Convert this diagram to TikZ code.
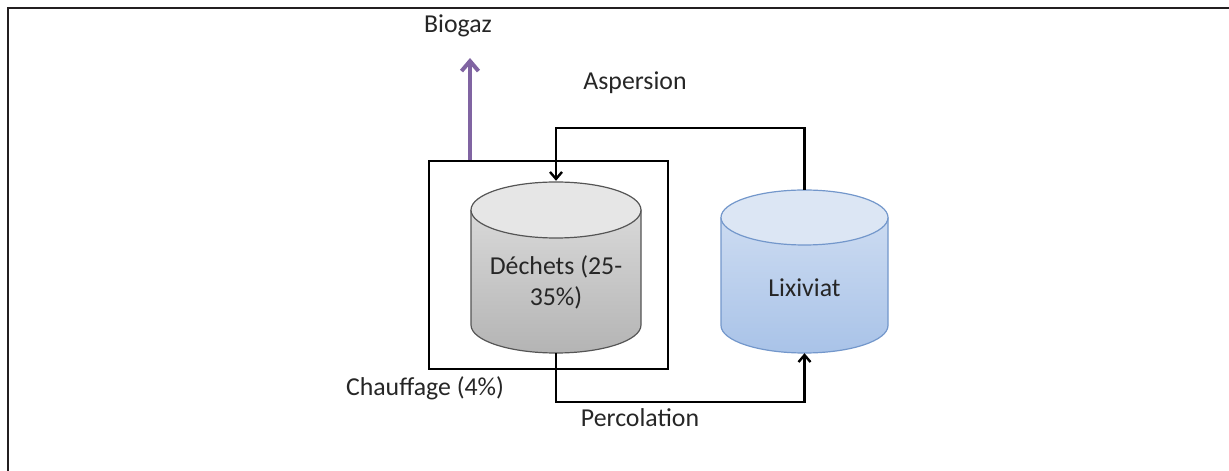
\documentclass[tikz,border=0pt]{standalone}
\usepackage{fontspec}
\setmainfont{Carlito}
\usetikzlibrary{arrows.meta,calc}
\definecolor{txt}{HTML}{262626}
\definecolor{framecol}{HTML}{231F20}
\definecolor{biocol}{HTML}{8064A2}
\definecolor{grayedge}{HTML}{555555}
\definecolor{graytop}{HTML}{E6E6E6}
\definecolor{graymid}{HTML}{E0E0E0}
\definecolor{graybot}{HTML}{B4B4B4}
\definecolor{blueedge}{HTML}{7397CB}
\definecolor{bluetop}{HTML}{DCE6F4}
\definecolor{bluemid}{HTML}{D3E0F3}
\definecolor{bluebot}{HTML}{A9C3E8}
\begin{document}
\begin{tikzpicture}[x=1pt,y=1pt,
  lbl/.style={font=\fontsize{25.8}{31}\selectfont, text=txt, inner sep=0pt, align=center},
  conn/.style={line width=2.4pt, black, -{Straight Barb[length=7pt,width=12pt]}},
  anchorbox/.style={inner sep=0pt, draw=none},
  bio/.style={line width=4pt, biocol, -{Straight Barb[length=10pt,width=17pt]}}]
\useasboundingbox (0,0) rectangle (1229,471);
% outer frame (top and left edges)
\draw[line width=2.6pt, framecol] (8,0) -- (8,463) -- (1229,463);

% reactor box
\node[draw, line width=2.2pt, minimum width=239pt, minimum height=208pt, inner sep=0pt] (box) at (548.5,206) {};

% Dechets cylinder
\shade[top color=graymid, bottom color=graybot] (471,261) -- (471,146)
  arc[start angle=180,end angle=360,x radius=85,y radius=28] -- (641,261)
  arc[start angle=0,end angle=180,x radius=85,y radius=28] -- cycle;
\draw[grayedge, line width=1.2pt] (471,261) -- (471,146)
  arc[start angle=180,end angle=360,x radius=85,y radius=28] -- (641,261);
\filldraw[fill=graytop, draw=grayedge, line width=1.2pt] (556,261) ellipse[x radius=85,y radius=28];
\node[anchorbox, minimum width=170pt, minimum height=172pt] (dech) at (556,204) {};
\node[lbl] (dechtxt) at (556,189) {Déchets (25-\\35\%)};

% Lixiviat cylinder
\shade[top color=bluemid, bottom color=bluebot] (721,253.5) -- (721,145.5)
  arc[start angle=180,end angle=360,x radius=83.5,y radius=27.5] -- (888,253.5)
  arc[start angle=0,end angle=180,x radius=83.5,y radius=27.5] -- cycle;
\draw[blueedge, line width=1.2pt] (721,253.5) -- (721,145.5)
  arc[start angle=180,end angle=360,x radius=83.5,y radius=27.5] -- (888,253.5);
\filldraw[fill=bluetop, draw=blueedge, line width=1.2pt] (804.5,253.5) ellipse[x radius=83.5,y radius=27.5];
\node[anchorbox, minimum width=167pt, minimum height=163pt] (lix) at (804.5,199.5) {};
\node[lbl] (lixtxt) at (804.5,183) {Lixiviat};

% connectors
\coordinate (asp) at (680,343);
\coordinate (perc) at (680,69);
\draw[conn] (lix.north) |- (asp) -| (dech.north);
\draw[conn] (dech.south) |- (perc) -| (lix.south);

% biogaz
\coordinate (bgx) at (470,0);
\coordinate (bgtip) at (470,413);
\draw[bio] (box.north -| bgx) -- (bgtip);

% labels
\node[lbl] (biogaz) at (458,445) {Biogaz};
\node[lbl] (aspersion) at (635,388) {Aspersion};
\node[lbl] (chauffage) at (425,83) {Chauffage (4\%)};
\node[lbl] (percolation) at (640,53) {Percolation};
\end{tikzpicture}
\end{document}
